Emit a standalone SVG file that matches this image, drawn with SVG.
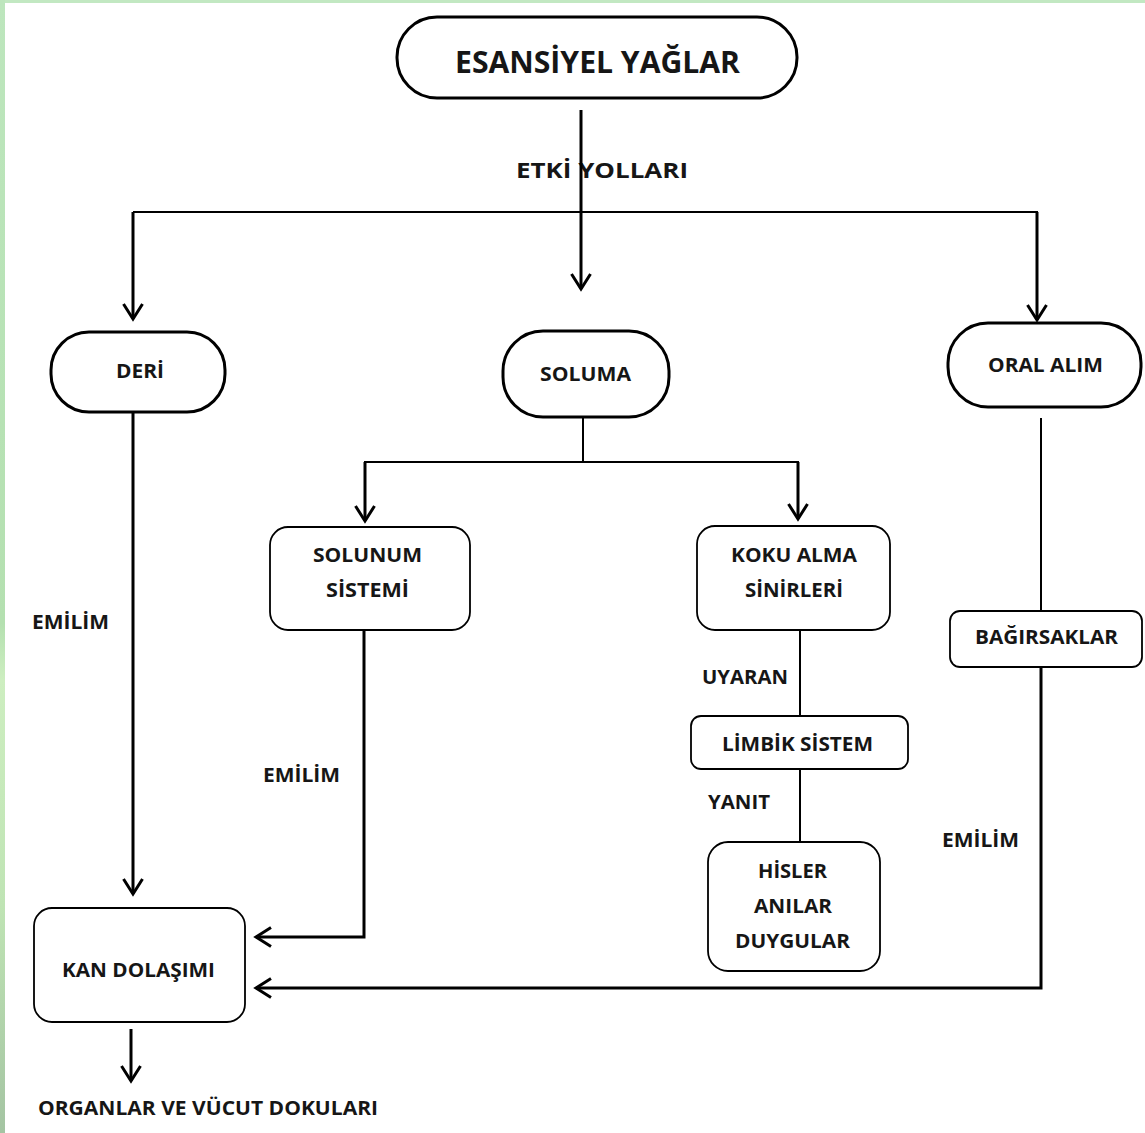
<svg xmlns="http://www.w3.org/2000/svg" width="1145" height="1133" viewBox="0 0 1145 1133">
<defs>
<linearGradient id="gl" x1="0" y1="0" x2="0" y2="1">
<stop offset="0" stop-color="#bde6bd"/>
<stop offset="0.55" stop-color="#b4e0b0"/>
<stop offset="0.6" stop-color="#cdeec0"/>
<stop offset="0.8" stop-color="#bfe4b4"/>
<stop offset="1" stop-color="#a4c4a2"/>
</linearGradient>
<marker id="ah" markerUnits="userSpaceOnUse" markerWidth="26" markerHeight="26" viewBox="-20 -13 26 26" refX="0" refY="0" orient="auto">
<path d="M-15,-9.5 L0,0 L-15,9.5" fill="none" stroke="#000" stroke-width="3" stroke-linejoin="miter"/>
</marker>
<style>
.stad{fill:#fff;stroke:#000;stroke-width:3}
.box{fill:#fff;stroke:#000;stroke-width:1.8}
.t{font-family:"Open Sans","Liberation Sans",sans-serif;font-weight:bold;fill:#161616;text-anchor:start}
.s{font-size:19px}
.thin{fill:none;stroke:#000;stroke-width:2}
.thick{fill:none;stroke:#000;stroke-width:3}
</style>
</defs>
<rect x="0" y="0" width="1145" height="1133" fill="#fff"/>
<rect x="0" y="0" width="1145" height="3" fill="#c2e8c2"/>
<rect x="0" y="0" width="5" height="1133" fill="url(#gl)"/>

<g id="n-title">
<rect class="stad" x="397" y="17" width="400" height="81" rx="40" ry="40"/>
<text class="t" x="455" y="73" font-size="30" textLength="285" lengthAdjust="spacingAndGlyphs">ESANSİYEL YAĞLAR</text>
</g>
<g id="l-etki">
<text class="t" x="516" y="178" font-size="22" textLength="172" lengthAdjust="spacingAndGlyphs">ETKİ YOLLARI</text>
</g>
<g id="n-deri">
<rect class="stad" x="51" y="332" width="174" height="80" rx="38" ry="38"/>
<text class="t s" x="116" y="378" textLength="48" lengthAdjust="spacingAndGlyphs">DERİ</text>
</g>
<g id="n-soluma">
<rect class="stad" x="503" y="331" width="166" height="86" rx="40" ry="40"/>
<text class="t s" x="540" y="381" textLength="91" lengthAdjust="spacingAndGlyphs">SOLUMA</text>
</g>
<g id="n-oral">
<rect class="stad" x="948" y="323" width="193" height="84" rx="40" ry="40"/>
<text class="t s" x="988" y="372" textLength="115" lengthAdjust="spacingAndGlyphs">ORAL ALIM</text>
</g>
<g id="n-solunum">
<rect class="box" x="270" y="527" width="200" height="103" rx="18" ry="18"/>
<text class="t s" x="313" y="562" textLength="109" lengthAdjust="spacingAndGlyphs">SOLUNUM</text>
<text class="t s" x="326" y="597" textLength="83" lengthAdjust="spacingAndGlyphs">SİSTEMİ</text>
</g>
<g id="n-koku">
<rect class="box" x="697" y="526" width="193" height="104" rx="18" ry="18"/>
<text class="t s" x="731" y="562" textLength="126" lengthAdjust="spacingAndGlyphs">KOKU ALMA</text>
<text class="t s" x="745" y="597" textLength="98" lengthAdjust="spacingAndGlyphs">SİNİRLERİ</text>
</g>
<g id="n-limbik">
<rect class="box" x="691" y="716" width="217" height="53" rx="10" ry="10"/>
<text class="t s" x="722" y="751" textLength="151" lengthAdjust="spacingAndGlyphs">LİMBİK SİSTEM</text>
</g>
<g id="n-hisler">
<rect class="box" x="708" y="842" width="172" height="129" rx="20" ry="20"/>
<text class="t s" x="758" y="878" textLength="69" lengthAdjust="spacingAndGlyphs">HİSLER</text>
<text class="t s" x="754" y="913" textLength="78" lengthAdjust="spacingAndGlyphs">ANILAR</text>
<text class="t s" x="735" y="948" textLength="115" lengthAdjust="spacingAndGlyphs">DUYGULAR</text>
</g>
<g id="n-bagirsak">
<rect class="box" x="950" y="611" width="192" height="56" rx="10" ry="10"/>
<text class="t s" x="975" y="644" textLength="143" lengthAdjust="spacingAndGlyphs">BAĞIRSAKLAR</text>
</g>
<g id="n-kan">
<rect class="box" x="34" y="908" width="211" height="114" rx="18" ry="18"/>
<text class="t s" x="62" y="977" textLength="153" lengthAdjust="spacingAndGlyphs">KAN DOLAŞIMI</text>
</g>
<g id="n-organlar">
<text class="t s" x="38" y="1115" textLength="340" lengthAdjust="spacingAndGlyphs">ORGANLAR VE VÜCUT DOKULARI</text>
</g>
<g id="labels">
<text class="t s" x="32" y="629" textLength="77" lengthAdjust="spacingAndGlyphs">EMİLİM</text>
<text class="t s" x="263" y="782" textLength="77" lengthAdjust="spacingAndGlyphs">EMİLİM</text>
<text class="t s" x="942" y="847" textLength="77" lengthAdjust="spacingAndGlyphs">EMİLİM</text>
<text class="t s" x="702" y="684" textLength="86" lengthAdjust="spacingAndGlyphs">UYARAN</text>
<text class="t s" x="708" y="809" textLength="62" lengthAdjust="spacingAndGlyphs">YANIT</text>
</g>

<g id="connectors">
<path class="thick" d="M581,110 V289" marker-end="url(#ah)"/>
<path class="thin" d="M133,212 H1038"/>
<path class="thick" d="M133,212 V319" marker-end="url(#ah)"/>
<path class="thick" d="M1037,212 V320" marker-end="url(#ah)"/>
<path class="thick" d="M133,413 V894" marker-end="url(#ah)"/>
<path class="thick" d="M131,1029 V1081" marker-end="url(#ah)"/>
<path class="thin" d="M583,418 V462"/>
<path class="thin" d="M364,462 H799"/>
<path class="thick" d="M365,462 V521" marker-end="url(#ah)"/>
<path class="thick" d="M798,462 V519" marker-end="url(#ah)"/>
<path class="thick" d="M364,631 V937 H256" stroke-width="2.5" marker-end="url(#ah)"/>
<path class="thin" d="M800,630 V716"/>
<path class="thin" d="M800,769 V842"/>
<path class="thin" d="M1041,418 V611"/>
<path class="thick" d="M1041,667 V988 H256" marker-end="url(#ah)"/>
</g>
</svg>
